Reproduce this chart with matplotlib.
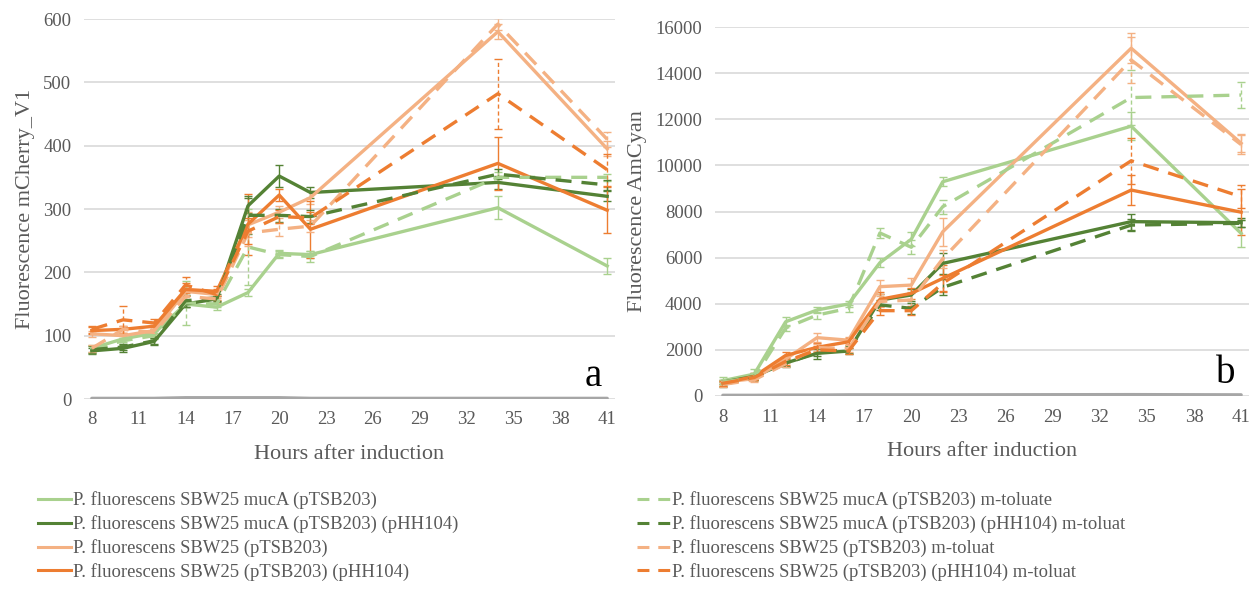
import matplotlib
matplotlib.use("Agg")
import matplotlib.pyplot as plt
from matplotlib.lines import Line2D
import numpy as np

hours = [8, 10, 12, 14, 16, 18, 20, 22, 34, 41]

labels = [
    "P. fluorescens SBW25 mucA (pTSB203)",
    "P. fluorescens SBW25 mucA (pTSB203) (pHH104)",
    "P. fluorescens SBW25 (pTSB203)",
    "P. fluorescens SBW25 (pTSB203) (pHH104)",
    "P. fluorescens SBW25 mucA (pTSB203) m-toluate",
    "P. fluorescens SBW25 mucA (pTSB203) (pHH104) m-toluat",
    "P. fluorescens SBW25 (pTSB203) m-toluat",
    "P. fluorescens SBW25 (pTSB203) (pHH104) m-toluat",
]
colors = ["#A9D18E", "#548235", "#F4B183", "#ED7D31",
          "#A9D18E", "#548235", "#F4B183", "#ED7D31"]
dashed = [False, False, False, False, True, True, True, True]

# Panel a: mCherry_V1
mcherry = [
    [80, 95, 104, 150, 145, 168, 230, 228, 302, 210],
    [76, 80, 91, 150, 158, 305, 352, 326, 342, 320],
    [103, 100, 108, 170, 165, 275, 295, 318, 580, 395],
    [108, 110, 115, 173, 170, 276, 322, 268, 372, 298],
    [78, 92, 100, 152, 150, 240, 228, 225, 350, 350],
    [78, 82, 92, 155, 160, 290, 290, 288, 355, 338],
    [80, 110, 105, 162, 158, 262, 268, 273, 592, 410],
    [110, 125, 120, 180, 165, 265, 288, 286, 482, 362],
]
mcherry_err = [
    [5, 5, 4, 5, 5, 5, 6, 6, 18, 12],
    [5, 6, 5, 5, 5, 12, 17, 8, 10, 8],
    [5, 5, 5, 8, 6, 20, 10, 10, 12, 12],
    [5, 6, 5, 10, 8, 48, 10, 45, 42, 36],
    [5, 5, 5, 35, 5, 60, 6, 8, 8, 6],
    [5, 5, 5, 10, 6, 30, 10, 10, 8, 8],
    [5, 6, 5, 8, 6, 20, 10, 10, 10, 12],
    [6, 22, 6, 12, 8, 20, 10, 10, 55, 25],
]
blank_a = [1, 1, 1, 2, 2, 2, 2, 1, 1, 1]

# Panel b: AmCyan
amcyan = [
    [665, 950, 3220, 3730, 3990, 5780, 6800, 9290, 11700, 7050],
    [600, 850, 1430, 1850, 1950, 4160, 4380, 5750, 7560, 7515],
    [600, 750, 1600, 2530, 2420, 4740, 4810, 7120, 15080, 10960],
    [550, 850, 1760, 2110, 2350, 4190, 4450, 5100, 8930, 7970],
    [600, 800, 2950, 3510, 3800, 7070, 6450, 8210, 12940, 13050],
    [500, 800, 1400, 1900, 2000, 3950, 3800, 4710, 7410, 7490],
    [500, 700, 1400, 2100, 2050, 4100, 4160, 5950, 14570, 10900],
    [550, 800, 1500, 2000, 1950, 3700, 3700, 4890, 10200, 8640],
]
amcyan_err = [
    [150, 200, 200, 150, 150, 200, 300, 200, 600, 600],
    [100, 150, 150, 250, 150, 250, 250, 450, 350, 200],
    [100, 100, 150, 200, 150, 300, 300, 600, 650, 400],
    [100, 150, 150, 200, 150, 300, 250, 600, 650, 1000],
    [100, 100, 150, 150, 150, 200, 300, 300, 1200, 550],
    [100, 100, 150, 150, 150, 200, 250, 350, 250, 150],
    [100, 100, 150, 150, 150, 250, 300, 400, 1000, 400],
    [100, 100, 150, 150, 150, 200, 200, 350, 1000, 500],
]
blank_b = [30, 30, 40, 40, 50, 50, 50, 50, 60, 50]

xticks = list(range(8, 42, 3))

SERIF = ["Liberation Serif", "DejaVu Serif"]
plt.rcParams["font.family"] = SERIF
TXT = "#595959"

fig = plt.figure(figsize=(12.56, 5.96), dpi=100)
axa = fig.add_axes([84 / 1256, 1 - 399 / 596, 531 / 1256, 380 / 596])
axb = fig.add_axes([715 / 1256, 1 - 396 / 596, 534 / 1256, 369 / 596])

DASH = (0, (4.8, 3.0))


def draw(ax, data, errs, blank, ymax, ystep, ylabel, letter):
    ax.plot(hours, blank, color="#A6A6A6", lw=2.4, zorder=2, solid_capstyle="round")
    for vals, err, c, d in zip(data, errs, colors, dashed):
        eb = ax.errorbar(hours, vals, yerr=err, fmt="none", ecolor=c,
                         elinewidth=1.0, capsize=3, capthick=1.0, zorder=3)
        if d:
            for lc in eb[2]:
                lc.set_linestyle((0, (3, 2)))
        ax.plot(hours, vals, color=c, lw=2.4, linestyle=DASH if d else "-",
                zorder=4, solid_joinstyle="round", dash_joinstyle="round")
    ax.set_xlim(7.5, 41.5)
    ax.set_ylim(0, ymax)
    ax.set_xticks(xticks)
    ax.set_yticks(np.arange(0, ymax + 1, ystep))
    ax.grid(axis="y", color="#D9D9D9", lw=1.2, zorder=0)
    ax.set_axisbelow(True)
    for s in ax.spines.values():
        s.set_visible(False)
    ax.tick_params(length=0, labelsize=13.5, colors=TXT, pad=9)
    ax.set_xlabel("Hours after induction", fontsize=16, color=TXT, labelpad=12)
    ax.set_ylabel(ylabel, fontsize=16, color=TXT, labelpad=6)
    ax.text(0.975, 0.01, letter, transform=ax.transAxes, fontsize=28,
            ha="right", va="bottom", color="black")


draw(axa, mcherry, mcherry_err, blank_a, 600, 100, "Fluorescence mCherry_V1", "a")
draw(axb, amcyan, amcyan_err, blank_b, 16000, 2000, "Fluorescence AmCyan", "b")

LEG_DASH = (0, (3.9, 2.9))
handles = [Line2D([], [], color=c, lw=2.2, linestyle=LEG_DASH if d else "-",
                  dash_capstyle="butt")
           for c, d in zip(colors, dashed)]

common = dict(loc="upper left", frameon=False, fontsize=13.4,
              handlelength=1.75, handletextpad=0.1, labelspacing=0.32,
              labelcolor=TXT, borderaxespad=0)
leg1 = fig.legend(handles[:4], labels[:4],
                  bbox_to_anchor=(31 / 1256, 1 - 484 / 596), **common)
leg2 = fig.legend(handles[4:], labels[4:],
                  bbox_to_anchor=(630 / 1256, 1 - 484 / 596), **common)

fig.savefig("out.png", dpi=100)
